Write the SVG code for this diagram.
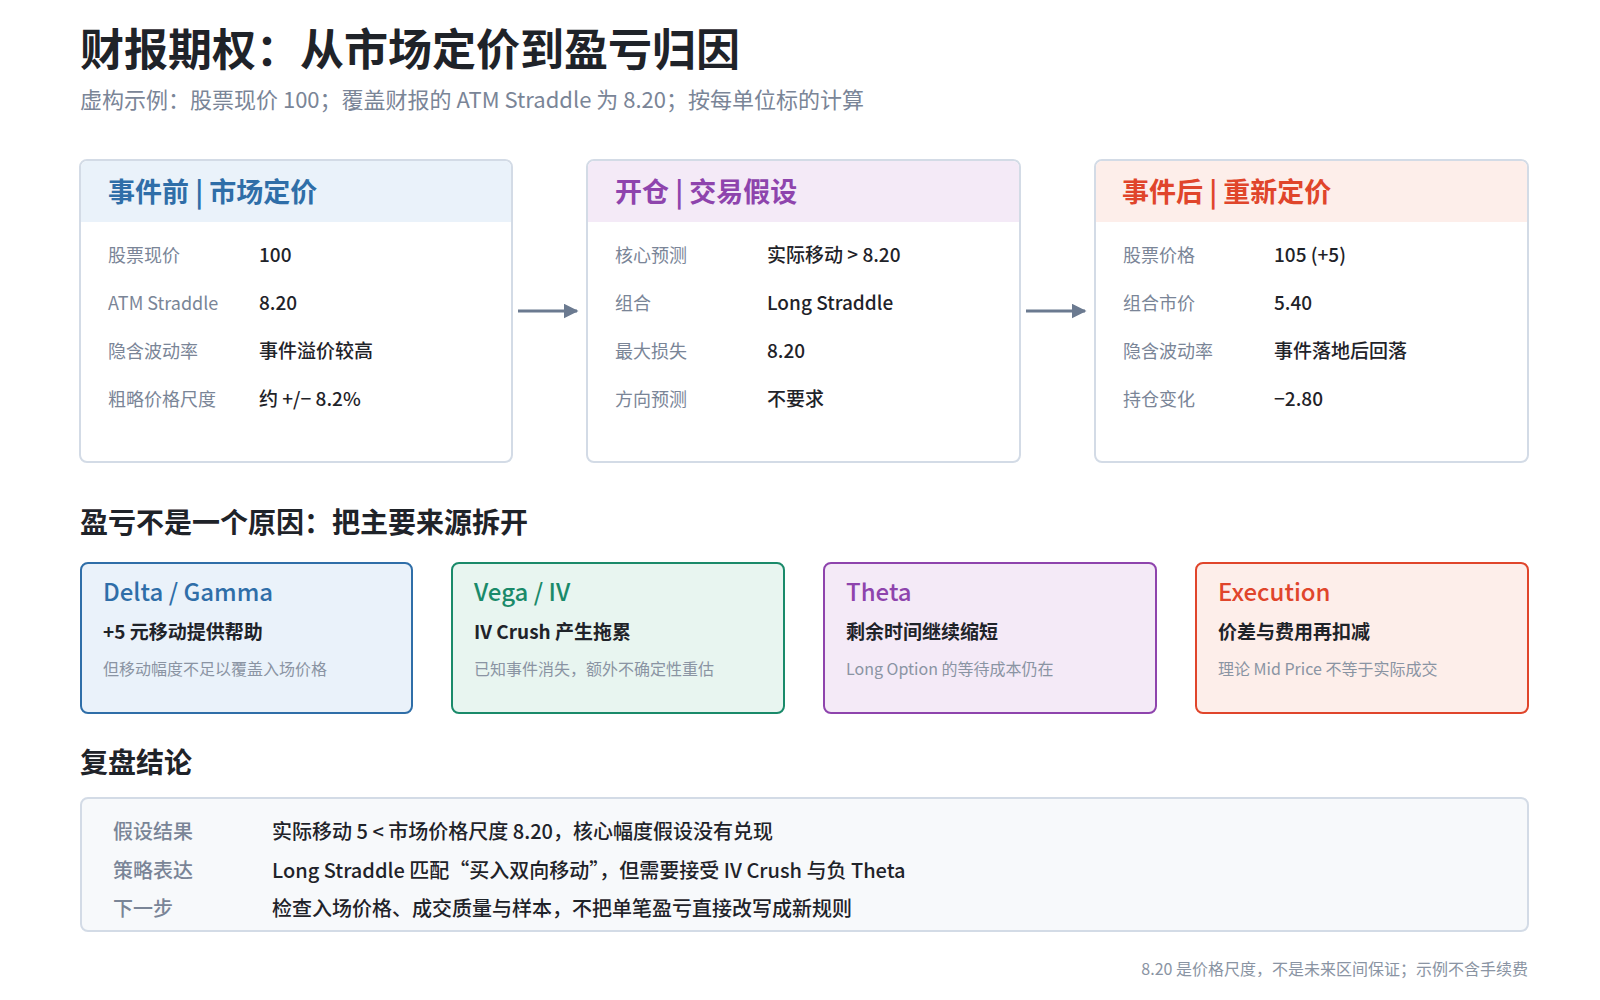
<svg xmlns="http://www.w3.org/2000/svg" width="1600" height="1000" viewBox="0 0 1600 1000">
<style>
text{font-family:"Noto Sans CJK SC","Noto Sans",sans-serif}
.lab{font-size:18px;fill:#7a8597}
.val{font-size:19px;fill:#1f2329;font-weight:500}
.card{fill:#fff;stroke:#d3dbe6;stroke-width:2}
.h{font-size:27px;font-weight:700}
.sec{font-size:28px;font-weight:700;fill:#1f2329}
.ft{font-size:24px;font-weight:500}
.fs{font-size:19px;font-weight:700;fill:#1f2329}
.fn{font-size:16px;fill:#8a94a3}
.cl{font-size:20px;fill:#7a8597;font-weight:500}
.cv{font-size:20px;fill:#1f2329;font-weight:500}
</style>
<defs><marker id="ar" viewBox="0 0 10 10" refX="9" refY="5" markerWidth="5" markerHeight="5" orient="auto"><path d="M0,0L10,5L0,10z" fill="#6b7a90"/></marker></defs>
<rect width="1600" height="1000" fill="#fff"/>
<text x="80" y="66" font-size="44" font-weight="700" fill="#1f2329">财报期权：从市场定价到盈亏归因</text>
<text x="80" y="108" font-size="22" fill="#7a8597">虚构示例：股票现价 100；覆盖财报的 ATM Straddle 为 8.20；按每单位标的计算</text>
<g id="pre">
<rect class="card" x="80" y="160" width="432" height="302" rx="7"/>
<path d="M81,222V167a6,6 0 0 1 6-6H505a6,6 0 0 1 6,6V222z" fill="#eaf2fa"/>
<text class="h" x="108" y="202" fill="#2f6ea8">事件前 | 市场定价</text>
<text class="lab" x="108" y="262">股票现价</text><text class="val" x="259" y="262">100</text>
<text class="lab" x="108" y="310">ATM Straddle</text><text class="val" x="259" y="310">8.20</text>
<text class="lab" x="108" y="358">隐含波动率</text><text class="val" x="259" y="358" font-weight="700">事件溢价较高</text>
<text class="lab" x="108" y="406">粗略价格尺度</text><text class="val" x="259" y="406" fill="#2f6ea8" font-weight="700">约 +/− 8.2%</text>
</g>
<g id="open">
<rect class="card" x="587" y="160" width="433" height="302" rx="7"/>
<path d="M588,222V167a6,6 0 0 1 6-6H1013a6,6 0 0 1 6,6V222z" fill="#f4eaf7"/>
<text class="h" x="615" y="202" fill="#8e44ad">开仓 | 交易假设</text>
<text class="lab" x="615" y="262">核心预测</text><text class="val" x="767" y="262" font-weight="700">实际移动 &gt; 8.20</text>
<text class="lab" x="615" y="310">组合</text><text class="val" x="767" y="310">Long Straddle</text>
<text class="lab" x="615" y="358">最大损失</text><text class="val" x="767" y="358">8.20</text>
<text class="lab" x="615" y="406">方向预测</text><text class="val" x="767" y="406" fill="#8e44ad" font-weight="700">不要求</text>
</g>
<g id="post">
<rect class="card" x="1095" y="160" width="433" height="302" rx="7"/>
<path d="M1096,222V167a6,6 0 0 1 6-6H1521a6,6 0 0 1 6,6V222z" fill="#fdeeea"/>
<text class="h" x="1122" y="202" fill="#e0452b">事件后 | 重新定价</text>
<text class="lab" x="1123" y="262">股票价格</text><text class="val" x="1274" y="262">105 (+5)</text>
<text class="lab" x="1123" y="310">组合市价</text><text class="val" x="1274" y="310">5.40</text>
<text class="lab" x="1123" y="358">隐含波动率</text><text class="val" x="1274" y="358" font-weight="700">事件落地后回落</text>
<text class="lab" x="1123" y="406">持仓变化</text><text class="val" x="1274" y="406" fill="#e0452b">−2.80</text>
</g>
<g id="connectors" stroke="#6b7a90" stroke-width="3" fill="none">
<line x1="518" y1="311" x2="577" y2="311" marker-end="url(#ar)"/>
<line x1="1026" y1="311" x2="1085" y2="311" marker-end="url(#ar)"/>
</g>
<text class="sec" x="80" y="533">盈亏不是一个原因：把主要来源拆开</text>
<g id="delta">
<rect x="81" y="563" width="331" height="150" rx="7" fill="#eaf2fa" stroke="#2f6ea8" stroke-width="2"/>
<text class="ft" x="103" y="601" fill="#2f6ea8">Delta / Gamma</text>
<text class="fs" x="103" y="639">+5 元移动提供帮助</text>
<text class="fn" x="103" y="675">但移动幅度不足以覆盖入场价格</text>
</g>
<g id="vega">
<rect x="452" y="563" width="332" height="150" rx="7" fill="#e8f5f0" stroke="#1a8a6a" stroke-width="2"/>
<text class="ft" x="474" y="601" fill="#1a8a6a">Vega / IV</text>
<text class="fs" x="474" y="639">IV Crush 产生拖累</text>
<text class="fn" x="474" y="675">已知事件消失，额外不确定性重估</text>
</g>
<g id="theta">
<rect x="824" y="563" width="332" height="150" rx="7" fill="#f4eaf7" stroke="#8e44ad" stroke-width="2"/>
<text class="ft" x="846" y="601" fill="#8e44ad">Theta</text>
<text class="fs" x="846" y="639">剩余时间继续缩短</text>
<text class="fn" x="846" y="675">Long Option 的等待成本仍在</text>
</g>
<g id="exec">
<rect x="1196" y="563" width="332" height="150" rx="7" fill="#fdeeea" stroke="#e0452b" stroke-width="2"/>
<text class="ft" x="1218" y="601" fill="#e0452b">Execution</text>
<text class="fs" x="1218" y="639">价差与费用再扣减</text>
<text class="fn" x="1218" y="675">理论 Mid Price 不等于实际成交</text>
</g>
<text class="sec" x="80" y="773">复盘结论</text>
<g id="review">
<rect x="81" y="798" width="1447" height="133" rx="7" fill="#f7f9fb" stroke="#d3dbe6" stroke-width="2"/>
<text class="cl" x="113" y="839">假设结果</text><text class="cv" x="272" y="839">实际移动 5 &lt; 市场价格尺度 8.20，核心幅度假设没有兑现</text>
<text class="cl" x="113" y="878">策略表达</text><text class="cv" x="272" y="878">Long Straddle 匹配“买入双向移动”，但需要接受 IV Crush 与负 Theta</text>
<text class="cl" x="113" y="916">下一步</text><text class="cv" x="272" y="916">检查入场价格、成交质量与样本，不把单笔盈亏直接改写成新规则</text>
</g>
<text x="1528" y="975" text-anchor="end" font-size="16" fill="#8a94a3">8.20 是价格尺度，不是未来区间保证；示例不含手续费</text>
</svg>
